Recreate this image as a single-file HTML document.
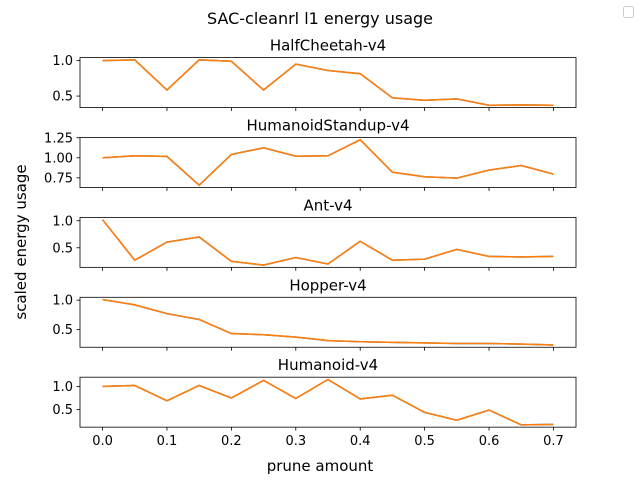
<!DOCTYPE html>
<html><head><meta charset="utf-8"><style>
html,body{margin:0;padding:0;background:#fff;}
svg{display:block;font-family:"DejaVu Sans","Liberation Sans",sans-serif;}
</style></head><body>
<svg id="chart" width="640" height="480" viewBox="0 0 640 480" xmlns="http://www.w3.org/2000/svg">
<rect width="640" height="480" fill="#fff"/>
<text x="320" y="24" text-anchor="middle" font-size="16" fill="#000">SAC-cleanrl l1 energy usage</text>
<rect x="623.5" y="6.5" width="10" height="11" rx="2" fill="#fff" stroke="#ccc"/>
<text x="0" y="0" transform="translate(26,242) rotate(-90)" text-anchor="middle" font-size="15">scaled energy usage</text>
<text x="320" y="471" text-anchor="middle" font-size="15">prune amount</text>
<g id="plots"></g>
</svg>
<script>
const pruneAmounts = [0,0.05,0.1,0.15,0.2,0.25,0.3,0.35,0.4,0.45,0.5,0.55,0.6,0.65,0.7];
const xTicks = [0,0.1,0.2,0.3,0.4,0.5,0.6,0.7];
const envNames = ["HalfCheetah-v4","HumanoidStandup-v4","Ant-v4","Hopper-v4","Humanoid-v4"];
const halfCheetah = [1.0,1.01,0.585,1.01,0.99,0.585,0.95,0.86,0.815,0.475,0.44,0.46,0.37,0.375,0.37];
const humanoidStandup = [1.0,1.025,1.017,0.658,1.042,1.125,1.02,1.025,1.225,0.82,0.763,0.746,0.846,0.904,0.796];
const ant = [1.02,0.27,0.605,0.70,0.25,0.18,0.32,0.2,0.62,0.27,0.29,0.47,0.34,0.33,0.34];
const hopper = [1.01,0.92,0.77,0.67,0.43,0.41,0.37,0.31,0.29,0.28,0.27,0.26,0.26,0.25,0.235];
const humanoid = [1.0,1.02,0.69,1.02,0.75,1.13,0.74,1.15,0.73,0.81,0.44,0.27,0.49,0.17,0.18];
const yTickSets = [[0.5,1.0],[0.75,1.0,1.25],[0.5,1.0],[0.5,1.0],[0.5,1.0]];
const seriesList = [halfCheetah,humanoidStandup,ant,hopper,humanoid];

const NS="http://www.w3.org/2000/svg";
const g=document.getElementById('plots');
const L=80,R=576,H=49.95,tops=[57.6,137.5,217.4,297.3,377.2];
const xmin=-0.035,xmax=0.735;
function xs(v){return L+(v-xmin)/(xmax-xmin)*(R-L);}
function mk(tag,attrs){const e=document.createElementNS(NS,tag);for(const k in attrs)e.setAttribute(k,attrs[k]);return e;}
function fmt(t,ticks){return ticks.includes(0.75)?t.toFixed(2):t.toFixed(1);}
seriesList.forEach((data,i)=>{
  const top=tops[i],bot=top+H;
  const mn=Math.min(...data),mx=Math.max(...data),pad=(mx-mn)*0.05;
  const y0=mn-pad,y1=mx+pad;
  const ys=v=>bot-(v-y0)/(y1-y0)*H;
  const t=mk('text',{x:(L+R)/2,y:top-7,'text-anchor':'middle','font-size':'15'});
  t.textContent=envNames[i];
  
  
  g.appendChild(t);
  yTickSets[i].forEach(v=>{
    const y=ys(v);
    const ln=mk('line',{x1:L-3.5,x2:L,y1:y,y2:y,stroke:'#000','stroke-width':0.8});
    
    
    g.appendChild(ln);
    const tx=mk('text',{x:L-7,y:y+4.5,'text-anchor':'end','font-size':'13'});
    tx.textContent=fmt(v,yTickSets[i]);
    
    
    g.appendChild(tx);
  });
  xTicks.forEach(v=>{
    const x=xs(v);
    const ln=mk('line',{x1:x,x2:x,y1:bot,y2:bot+3.5,stroke:'#000','stroke-width':0.8});
    
    
    g.appendChild(ln);
    if(i===4){
      const tx=mk('text',{x:x,y:bot+18,'text-anchor':'middle','font-size':'13'});
      tx.textContent=v.toFixed(1);
      
      
      g.appendChild(tx);
    }
  });
  const pts=data.map((v,j)=>xs(pruneAmounts[j]).toFixed(2)+','+ys(v).toFixed(2)).join(' ');
  const b=mk('polyline',{points:pts,fill:'none',stroke:'#1f77b4','stroke-width':1.5});
  
  
  g.appendChild(b);
  const o=mk('polyline',{points:pts,fill:'none',stroke:'#ff7f0e','stroke-width':1.6});
  
  
  g.appendChild(o);
  const fr=mk('rect',{x:L,y:top,width:R-L,height:H,fill:'none',stroke:'#000','stroke-width':0.8});
  
  
  g.appendChild(fr);
});
</script>
</body></html>
